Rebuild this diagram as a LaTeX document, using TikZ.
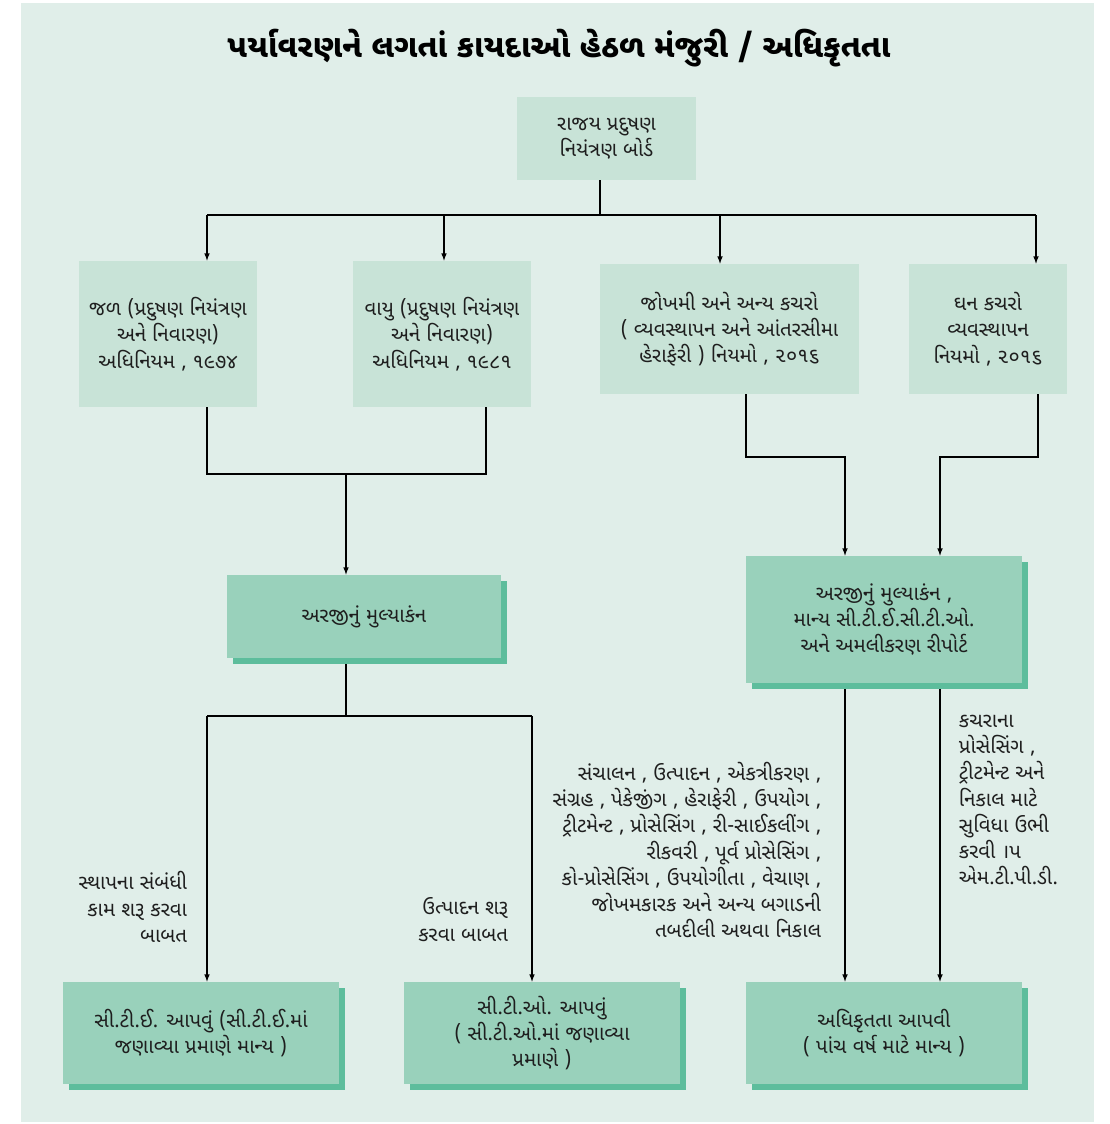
\documentclass[tikz,border=0pt]{standalone}
\usepackage{fontspec}
\usepackage{tikz}
\usetikzlibrary{shadows}
\newfontfamily\gujfont[Script=Gujarati]{Noto Sans Gujarati UI}
\definecolor{panel}{HTML}{E0EEE9}
\definecolor{lightbox}{HTML}{C8E3D7}
\definecolor{midbox}{HTML}{99D1BB}
\definecolor{shadebox}{HTML}{5DBD9C}
\definecolor{ink}{HTML}{1E1E1E}

\begin{document}
\begin{tikzpicture}[x=0.025cm,y=-0.025cm,>=latex,
  every node/.style={font=\gujfont\fontsize{14.5}{18.7}\selectfont,text=ink,align=center},
  lawbox/.style={fill=lightbox,inner sep=0pt,minimum width=4.45cm,minimum height=3.65cm},
  stagebox/.style={fill=midbox,inner sep=0pt,
    drop shadow={fill=shadebox,opacity=1,shadow xshift=0.15cm,shadow yshift=-0.15cm}},
  line/.style={line width=0.8pt,draw=black}]
\useasboundingbox (0,0) rectangle (1110,1124);
\fill[panel] (21,3) rectangle (1094,1122);
\node[font=\gujfont\bfseries\fontsize{22.5}{26}\selectfont,text=black] (title) at (559,48) {પર્યાવરણને લગતાં કાયદાઓ હેઠળ મંજુરી / અધિકૃતતા};
\node[lawbox,minimum width=4.475cm,minimum height=2.075cm] (board) at (606.5,138.5) {રાજય પ્રદુષણ\\નિયંત્રણ બોર્ડ};
\node[lawbox] (water) at (168,334) {જળ (પ્રદુષણ નિયંત્રણ\\અને નિવારણ)\\અધિનિયમ , ૧૯૭૪};
\node[lawbox] (air) at (442,334) {વાયુ (પ્રદુષણ નિયંત્રણ\\અને નિવારણ)\\અધિનિયમ , ૧૯૮૧};
\node[lawbox,minimum width=6.475cm,minimum height=3.25cm] (hazard) at (729.5,329) {જોખમી અને અન્ય કચરો\\( વ્યવસ્થાપન અને આંતરસીમા\\હેરાફેરી ) નિયમો , ૨૦૧૬};
\node[lawbox,minimum width=3.95cm,minimum height=3.25cm] (solid) at (988,329) {ઘન કચરો\\વ્યવસ્થાપન\\નિયમો , ૨૦૧૬};
\node[stagebox,minimum width=6.85cm,minimum height=2.075cm] (evalA) at (364,616.5) {અરજીનું મુલ્યાકંન};
\node[stagebox,minimum width=6.9cm,minimum height=3.175cm] (evalB) at (884,619.5) {અરજીનું મુલ્યાકંન ,\\માન્ય સી.ટી.ઈ.સી.ટી.ઓ.\\અને અમલીકરણ રીપોર્ટ};
\node[stagebox,minimum width=6.9cm,minimum height=2.55cm] (cte) at (201,1033) {સી.ટી.ઈ. આપવું (સી.ટી.ઈ.માં\\જણાવ્યા પ્રમાણે માન્ય )};
\node[stagebox,minimum width=6.9cm,minimum height=2.55cm] (cto) at (542,1033) {સી.ટી.ઓ. આપવું\\( સી.ટી.ઓ.માં જણાવ્યા\\પ્રમાણે )};
\node[stagebox,minimum width=6.9cm,minimum height=2.55cm] (auth) at (884,1033) {અધિકૃતતા આપવી\\( પાંચ વર્ષ માટે માન્ય )};
\node[anchor=east,align=right] (estab) at (192,907) {સ્થાપના સંબંધી\\કામ શરૂ કરવા\\બાબત};
\node[anchor=east,align=right] (prod) at (513,919.5) {ઉત્પાદન શરૂ\\કરવા બાબત};
\node[anchor=east,align=right] (acts) at (826,850) {સંચાલન , ઉત્પાદન , એકત્રીકરણ ,\\સંગ્રહ , પેકેજીંગ , હેરાફેરી , ઉપયોગ ,\\ટ્રીટમેન્ટ , પ્રોસેસિંગ , રી-સાઈકલીંગ ,\\રીકવરી , પૂર્વ પ્રોસેસિંગ ,\\કો-પ્રોસેસિંગ , ઉપયોગીતા , વેચાણ ,\\જોખમકારક અને અન્ય બગાડની\\તબદીલી અથવા નિકાલ};
\node[anchor=west,align=left] (facility) at (954,800) {કચરાના\\પ્રોસેસિંગ ,\\ટ્રીટમેન્ટ અને\\નિકાલ માટે\\સુવિધા ઉભી\\કરવી ।પ\\એમ.ટી.પી.ડી.};
\coordinate (split) at (600,215);
\coordinate (j1) at (207,215);
\coordinate (j2) at (444,215);
\coordinate (j3) at (720,215);
\coordinate (j4) at (1036,215);
\coordinate (m1) at (207,474);
\coordinate (m2) at (486,474);
\coordinate (mid) at (346,474);
\coordinate (r1) at (746,457);
\coordinate (r2) at (845,457);
\coordinate (r3) at (1038,457);
\coordinate (r4) at (940,457);
\coordinate (s0) at (346,716);
\coordinate (s1) at (207,716);
\coordinate (s2) at (532,716);
\draw[line] (board.south -| split) -- (split);
\draw[line] (j1) -- (j4);
\draw[line,->] (j1) -- (j1 |- water.north);
\draw[line,->] (j2) -- (j2 |- air.north);
\draw[line,->] (j3) -- (j3 |- hazard.north);
\draw[line,->] (j4) -- (j4 |- solid.north);
\draw[line] (water.south -| m1) -- (m1) -- (m2) -- (air.south -| m2);
\draw[line,->] (mid) -- (mid |- evalA.north);
\draw[line,->] (hazard.south -| r1) -- (r1) -- (r2) -- (r2 |- evalB.north);
\draw[line,->] (solid.south -| r3) -- (r3) -- (r4) -- (r4 |- evalB.north);
\draw[line,shorten <=0.15cm] (evalA.south -| s0) -- (s0);
\draw[line] (s1) -- (s2);
\draw[line,->] (s1) -- (s1 |- cte.north);
\draw[line,->] (s2) -- (s2 |- cto.north);
\draw[line,->,shorten <=0.15cm] (evalB.south -| r2) -- (r2 |- auth.north);
\draw[line,->,shorten <=0.15cm] (evalB.south -| r4) -- (r4 |- auth.north);
\end{tikzpicture}
\end{document}
